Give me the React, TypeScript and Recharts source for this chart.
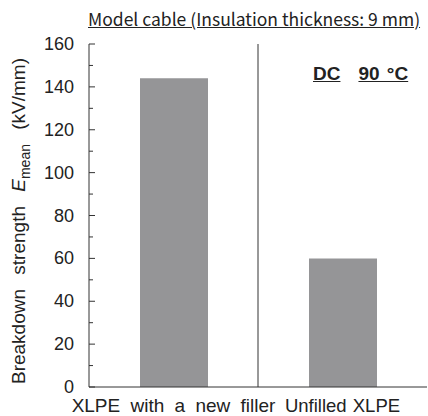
import React from "react";
import { BarChart, Bar, XAxis, YAxis, CartesianGrid } from "recharts";

const categories = ["XLPE with a new filler", "Unfilled XLPE"];
const breakdownStrength = [144, 60];
const yTicks = [0, 10, 20, 30, 40, 50, 60, 70, 80, 90, 100, 110, 120, 130, 140, 150, 160];

const data = categories.map((name, i) => ({ name, value: breakdownStrength[i] }));

const FONT = '"Liberation Sans", Arial, sans-serif';

// tick drawn inside the plot, label only every 20
function YTick(props: any) {
  const { x, y, payload } = props;
  const axisX = x + 15;
  const major = payload.value % 20 === 0;
  return (
    <g>
      <line x1={axisX} x2={axisX + (major ? 6 : 4)} y1={y} y2={y} stroke="#333" strokeWidth={1} />
      {major && (
        <text x={x} y={y} dy={6} textAnchor="end" fontSize={18} fill="#222" fontFamily={FONT}>
          {payload.value}
        </text>
      )}
    </g>
  );
}

function XTick(props: any) {
  const { x, y, payload } = props;
  const first = payload.index === 0;
  return (
    <text
      x={x}
      y={y}
      dy={23}
      textAnchor="middle"
      fontSize={first ? 19 : 18.5}
      fill="#222"
      fontFamily={FONT}
      style={{ wordSpacing: first ? 5 : 1 }}
    >
      {payload.value}
    </text>
  );
}

export default function App() {
  return (
    <div style={{ position: "absolute", left: 0, top: 0, width: 428, height: 416, background: "#fff" }}>
      <BarChart
        width={428}
        height={416}
        data={data}
        margin={{ top: 44, right: 1, left: 0, bottom: 0 }}
      >
        <CartesianGrid
          horizontal={false}
          stroke="#333"
          strokeDasharray=""
          verticalCoordinatesGenerator={({ offset }: any) => [offset.left + offset.width / 2]}
        />
        <XAxis
          dataKey="name"
          tickLine={false}
          axisLine={{ stroke: "#333" }}
          height={29}
          tickSize={0}
          tickMargin={2}
          interval={0}
          tick={<XTick />}
        />
        <XAxis xAxisId="top" orientation="top" dataKey="name" tick={false} tickLine={false} height={0} axisLine={{ stroke: "#333" }} />
        <YAxis
          domain={[0, 160]}
          ticks={yTicks}
          interval={0}
          width={89}
          tickSize={0}
          tickMargin={15}
          tickLine={false}
          axisLine={{ stroke: "#333" }}
          tick={<YTick />}
        />
        <YAxis yAxisId="right" orientation="right" domain={[0, 160]} width={0} tick={false} tickLine={false} axisLine={{ stroke: "#333" }} />
        <Bar dataKey="value" fill="#959597" barSize={68} isAnimationActive={false} />
      </BarChart>

      <div
        style={{
          position: "absolute",
          left: 88,
          top: 8,
          fontSize: 17.5,
          fontFamily: '"Noto Sans CJK JP", sans-serif',
          color: "#222",
          textDecoration: "underline",
          whiteSpace: "nowrap",
          lineHeight: "22px",
        }}
      >
        Model cable (Insulation thickness: 9 mm)
      </div>

      <div
        style={{
          position: "absolute",
          left: 313,
          top: 63,
          fontSize: 19,
          fontWeight: "bold",
          fontFamily: FONT,
          color: "#222",
          whiteSpace: "nowrap",
          lineHeight: "22px",
        }}
      >
        <span style={{ textDecoration: "underline" }}>DC</span>
        <span style={{ marginLeft: 18, textDecoration: "underline", wordSpacing: 2 }}>90 °C</span>
      </div>

      <div
        style={{
          position: "absolute",
          left: 22,
          top: 221,
          transform: "translate(-50%, -50%) rotate(-90deg)",
          fontSize: 19,
          fontFamily: FONT,
          color: "#222",
          whiteSpace: "nowrap",
          lineHeight: "22px",
          wordSpacing: 9,
        }}
      >
        Breakdown strength <i>E</i>
        <sub style={{ fontSize: 14 }}>mean</sub> (kV/mm)
      </div>
    </div>
  );
}
